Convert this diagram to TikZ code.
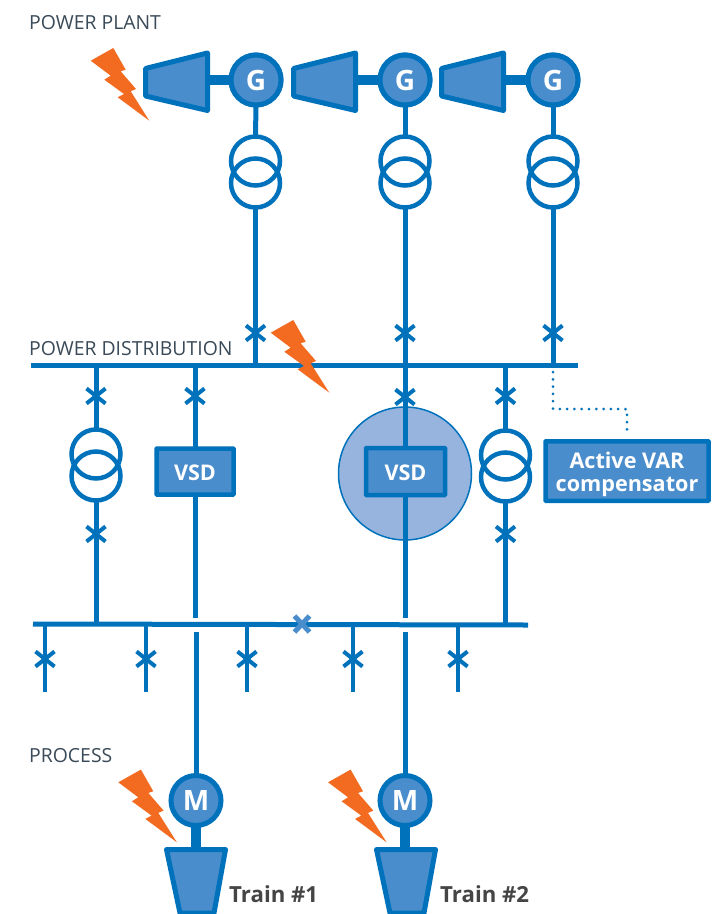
\documentclass[tikz,border=0pt]{standalone}
\usepackage{fontspec}
\setmainfont{Open Sans}
\usetikzlibrary{shapes.misc}
\definecolor{gline}{HTML}{0072BC}
\definecolor{gfill}{HTML}{4A8DCC}
\definecolor{ghalo}{HTML}{96B4DE}
\definecolor{gbolt}{HTML}{F36B21}
\definecolor{glabel}{HTML}{3A4A58}
\definecolor{gtrain}{HTML}{454545}
\tikzset{
  wire/.style={draw=gline,line width=5pt},
  thinwire/.style={draw=gline,line width=4.5pt},
  shaft/.style={draw=gline,line width=10.5pt},
  machine/.style={circle,draw=gline,fill=gfill,line width=5pt,minimum size=50pt,inner sep=0pt,outer sep=0pt,text=white,font=\fontsize{28}{30}\selectfont\bfseries},
  winding/.style={circle,draw=gline,line width=4.5pt,minimum size=49pt,inner sep=0pt,outer sep=0pt},
  brk/.style={cross out,draw=gline,line width=4pt,minimum width=19pt,minimum height=15pt,inner sep=0pt,outer sep=0pt},
  opentie/.style={cross out,draw=gfill,line width=5pt,minimum width=15pt,minimum height=16pt,inner sep=0pt,outer sep=0pt},
  unitbox/.style={rectangle,draw=gline,fill=gfill,line width=4.5pt,inner sep=0pt,outer sep=0pt,text=white,rounded corners=0.5pt,font=\fontsize{21.6}{24}\selectfont\bfseries,align=center},
  heading/.style={anchor=base west,inner sep=0pt,text=glabel,font=\fontsize{19.4}{22}\selectfont},
  trainlabel/.style={anchor=base west,inner sep=0pt,text=gtrain,font=\fontsize{22.2}{24}\selectfont\bfseries},
  casing/.style={draw=gline,fill=gfill,line width=5pt,line join=round},
  bolt/.style={fill=gbolt},
  dotwire/.style={draw=gline,line width=3pt,line cap=round,dash pattern=on 0pt off 7.3pt}
}
\newcommand{\lightning}[2]{%
  \fill[bolt,shift={(#1,#2)}] (0,0) -- (22.6,-12.7) -- (35,9) -- (30,10.6) -- (45.3,28.3) -- (40,30.6) -- (58.6,60) -- (27,36.6) -- (33.3,33.3) -- (13.6,19) -- (20,15) -- cycle;}
\begin{document}
\begin{tikzpicture}[x=1pt,y=-1pt]
\useasboundingbox (0,0) rectangle (727,914);
\fill[white] (0,0) rectangle (727,914);

% halo behind VSD 2
\node[circle,draw=gline,fill=ghalo,line width=1.5pt,minimum size=133pt,inner sep=0pt,outer sep=0pt] (halo) at (405,473.5) {};

% bus bars
\coordinate (busAw) at (31,365.5);
\coordinate (busAe) at (578,365.5);
\coordinate (busBw) at (33,624);
\coordinate (busBe) at (528,625);
\draw[wire] (busAw) -- (busAe);
\draw[wire] (busBw) -- (busBe);

% generators
\node[machine] (g1) at (256,80) {G};
\node[machine] (g2) at (405,80) {G};
\node[machine] (g3) at (553,80) {G};
% turbines
\foreach \dx/\gn in {0/g1,148/g2,296/g3}{
  \draw[shaft] (207+\dx,80) -- (\gn);
  \draw[casing,shift={(\dx,0)}] (145.5,68.5) -- (207.5,53) -- (207.5,110.5) -- (145.5,96) -- cycle;
}
\node[machine] at (g1) {G};
\node[machine] at (g2) {G};
\node[machine] at (g3) {G};

% plant transformers
\node[winding] (t1a) at (255.5,161) {};
\node[winding] (t1b) at (255.5,183) {};
\node[winding] (t2a) at (405,161) {};
\node[winding] (t2b) at (405,183) {};
\node[winding] (t3a) at (553,161) {};
\node[winding] (t3b) at (553,183) {};
\draw[wire] (g1.south) -- (t1a.north);
\draw[wire] (g2.south) -- (t2a.north);
\draw[wire] (g3.south) -- (t3a.north);
\coordinate (j1) at (255.5,365.5);
\coordinate (j2) at (405,365.5);
\coordinate (j3) at (553,365.5);
\draw[wire] (t1b.south) -- (j1);
\draw[wire] (t2b.south) -- (j2);
\draw[wire] (t3b.south) -- (j3);
\node[brk] (b1) at (255.5,333) {};
\node[brk] (b2) at (405,333) {};
\node[brk] (b3) at (553,333) {};

% feeder units
\node[unitbox,minimum width=77pt,minimum height=46pt] (vsd1) at (195,471.5) {\raisebox{-1.5pt}[\height][\depth]{VSD}};
\node[unitbox,minimum width=79pt,minimum height=47pt] (vsd2) at (405.5,471.5) {\raisebox{-1.5pt}[\height][\depth]{VSD}};
\node[unitbox,minimum width=163pt,minimum height=59.5pt] (var) at (627,471) {\raisebox{-4pt}[\height][\depth]{\begin{tabular}{@{}c@{}}Active VAR\\[-0.5pt]compensator\end{tabular}}};

% feeder 96
\node[winding] (t4a) at (96,454) {};
\node[winding] (t4b) at (96,476) {};
\coordinate (k4) at (96,365.5);
\coordinate (m4) at (96,624);
\draw[wire] (k4) -- (t4a.north);
\draw[wire] (t4b.south) -- (m4);
\node[brk] (b4) at (96,396) {};
\node[brk] (b5) at (96,534) {};

% feeder 195
\coordinate (k5) at (195,365.5);
\coordinate (v1e) at (195,618);
\draw[wire] (k5) -- (vsd1.north);
\draw[wire] (vsd1.south) -- (v1e);
\node[brk] (b6) at (195,396) {};

% feeder 405
\coordinate (v2e) at (405,618);
\draw[wire] (j2) -- (vsd2.north -| j2);
\draw[wire] (vsd2.south -| j2) -- (v2e);
\node[brk] (b7) at (405,397) {};

% feeder 505
\node[winding] (t5a) at (505.5,455) {};
\node[winding] (t5b) at (505.5,477) {};
\coordinate (k6) at (505.5,365.5);
\coordinate (m6) at (505.5,625);
\draw[wire] (k6) -- (t5a.north);
\draw[wire] (t5b.south) -- (m6);
\node[brk] (b8) at (505.5,396) {};
\node[brk] (b9) at (505.5,534) {};

% dotted link to compensator
\coordinate (d0) at (553,372);
\coordinate (d1) at (553,409);
\coordinate (d2) at (627,409);
\coordinate (d3) at (627,432);
\draw[dotwire] (d0) -- (d1) -- (d2) -- (d3);

% lower stubs
\foreach \x/\n in {45/s1,146/s2,247/s3,353/s4,458/s5}{
  \coordinate (\n t) at (\x,624.5);
  \coordinate (\n e) at (\x,692);
  \draw[thinwire] (\n t) -- (\n e);
  \node[brk] (\n) at (\x,659) {};
}
\node[opentie] (tie) at (302,624) {};

% motors
\node[machine] (m1) at (196,800.5) {M};
\node[machine] (m2) at (405,800.5) {M};
\coordinate (f1) at (196,632);
\coordinate (f2) at (405,632);
\draw[wire] (f1) -- (m1.north);
\draw[wire] (f2) -- (m2.north);
\coordinate (c1) at (196,850);
\coordinate (c2) at (405,850);
\draw[shaft] (m1.south) -- (c1);
\draw[shaft] (m2.south) -- (c2);
\draw[casing] (166.5,849.5) -- (225.5,849.5) -- (214,913) -- (180,913) -- cycle;
\draw[casing] (376.5,849.5) -- (435.5,849.5) -- (424,913) -- (390,913) -- cycle;

% lightning
\lightning{90.7}{60.7}
\lightning{270.7}{332.7}
\lightning{118.3}{782.3}
\lightning{328}{782.3}

% labels
\node[heading] (lbl1) at (29,29) {POWER PLANT};
\node[heading] (lbl2) at (29,355.5) {POWER DISTRIBUTION};
\node[heading] (lbl3) at (29,762) {PROCESS};
\node[trainlabel] (lbl4) at (229,902) {Train \#1};
\node[trainlabel] (lbl5) at (440,902) {Train \#2};
\end{tikzpicture}
\end{document}
